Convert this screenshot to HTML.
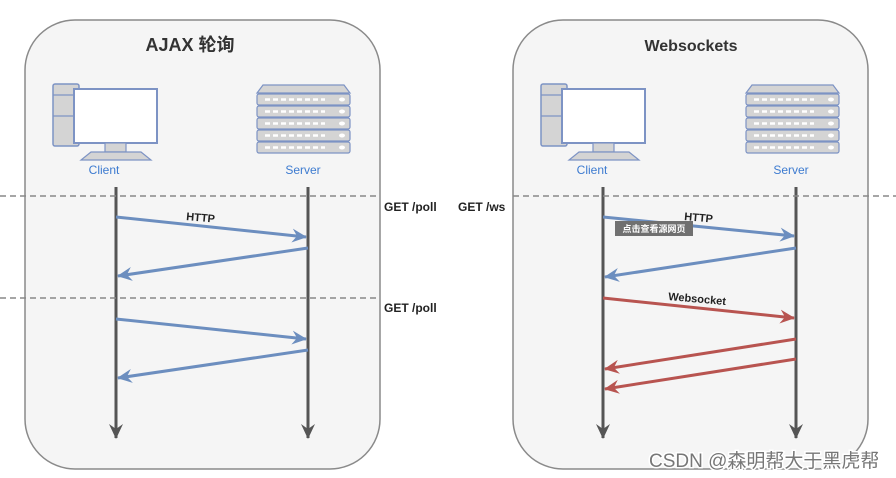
<!DOCTYPE html>
<html><head><meta charset="utf-8"><style>
body{margin:0;background:#fff;}
svg{display:block;font-family:"Liberation Sans","Noto Sans CJK SC",sans-serif;}
</style></head><body>
<svg width="896" height="478" viewBox="0 0 896 478" xmlns="http://www.w3.org/2000/svg">
<defs>
<g id="pc">
 <rect x="0" y="0" width="26" height="62" rx="2" fill="#d4d4d4" stroke="#7d93c4" stroke-width="1.5"/>
 <line x1="0" y1="11" x2="26" y2="11" stroke="#7d93c4" stroke-width="1.2"/>
 <line x1="0" y1="32" x2="26" y2="32" stroke="#7d93c4" stroke-width="1.2"/>
 <rect x="21" y="5" width="83" height="54" fill="#fff" stroke="#7d93c4" stroke-width="2"/>
 <rect x="52" y="59" width="21" height="9" fill="#d4d4d4" stroke="#7d93c4" stroke-width="1.2"/>
 <polygon points="38,68 88,68 98,76 28,76" fill="#d4d4d4" stroke="#7d93c4" stroke-width="1.2"/>
</g>
<g id="srv">
 <polygon points="6,0 87,0 93,8 0,8" fill="#d4d4d4" stroke="#7d93c4" stroke-width="1.2"/>
 <rect x="0" y="9" width="93" height="11" rx="2" fill="#d4d4d4" stroke="#7d93c4" stroke-width="1.2"/>
 <rect x="0" y="21" width="93" height="11" rx="2" fill="#d4d4d4" stroke="#7d93c4" stroke-width="1.2"/>
 <rect x="0" y="33" width="93" height="11" rx="2" fill="#d4d4d4" stroke="#7d93c4" stroke-width="1.2"/>
 <rect x="0" y="45" width="93" height="11" rx="2" fill="#d4d4d4" stroke="#7d93c4" stroke-width="1.2"/>
 <rect x="0" y="57" width="93" height="11" rx="2" fill="#d4d4d4" stroke="#7d93c4" stroke-width="1.2"/>
 <g stroke="#fff" stroke-width="2.5" stroke-dasharray="5 3">
  <line x1="8" y1="14.5" x2="68" y2="14.5"/><line x1="8" y1="26.5" x2="68" y2="26.5"/><line x1="8" y1="38.5" x2="68" y2="38.5"/><line x1="8" y1="50.5" x2="68" y2="50.5"/><line x1="8" y1="62.5" x2="68" y2="62.5"/>
 </g>
 <g fill="#fff"><ellipse cx="85" cy="14.5" rx="3" ry="2"/><ellipse cx="85" cy="26.5" rx="3" ry="2"/><ellipse cx="85" cy="38.5" rx="3" ry="2"/><ellipse cx="85" cy="50.5" rx="3" ry="2"/><ellipse cx="85" cy="62.5" rx="3" ry="2"/></g>
</g>
<marker id="ab" markerWidth="16" markerHeight="16" refX="14" refY="7" orient="auto" markerUnits="userSpaceOnUse"><path d="M0,0 L15,7 L0,14 L5,7 Z" fill="#6c8ebf"/></marker>
<marker id="ar" markerWidth="16" markerHeight="16" refX="14" refY="7" orient="auto" markerUnits="userSpaceOnUse"><path d="M0,0 L15,7 L0,14 L5,7 Z" fill="#b85450"/></marker>
<marker id="ag" markerWidth="16" markerHeight="16" refX="14" refY="7" orient="auto" markerUnits="userSpaceOnUse"><path d="M0,0 L15,7 L0,14 L5,7 Z" fill="#555"/></marker>
</defs>

<rect x="25" y="20" width="355" height="449" rx="50" fill="#f5f5f5" stroke="#8a8a8a" stroke-width="1.5"/>
<rect x="513" y="20" width="355" height="449" rx="50" fill="#f5f5f5" stroke="#8a8a8a" stroke-width="1.5"/>

<text x="190" y="51" font-size="18" font-weight="bold" fill="#333" text-anchor="middle">AJAX 轮询</text>
<text x="691" y="51" font-size="16" font-weight="bold" fill="#333" text-anchor="middle">Websockets</text>

<use href="#pc" x="53" y="84"/>
<use href="#srv" x="257" y="85"/>
<use href="#pc" x="541" y="84"/>
<use href="#srv" x="746" y="85"/>
<g font-size="12" fill="#3d7bd0" text-anchor="middle">
<text x="104" y="174">Client</text><text x="303" y="174">Server</text>
<text x="592" y="174">Client</text><text x="791" y="174">Server</text>
</g>

<g stroke="#555" stroke-width="3">
<line x1="116" y1="187" x2="116" y2="438" marker-end="url(#ag)"/>
<line x1="308" y1="187" x2="308" y2="438" marker-end="url(#ag)"/>
<line x1="603" y1="187" x2="603" y2="438" marker-end="url(#ag)"/>
<line x1="796" y1="187" x2="796" y2="438" marker-end="url(#ag)"/>
</g>

<g stroke="#888" stroke-width="1.5" stroke-dasharray="6 4">
<line x1="0" y1="196" x2="378" y2="196"/>
<line x1="513" y1="196" x2="896" y2="196"/>
<line x1="0" y1="298" x2="378" y2="298"/>
</g>
<g font-size="12" font-weight="bold" fill="#222">
<text x="384" y="211">GET /poll</text>
<text x="458" y="211">GET /ws</text>
<text x="384" y="312">GET /poll</text>
</g>

<g stroke-width="3" fill="none">
<line x1="116" y1="217" x2="306" y2="237" stroke="#6c8ebf" marker-end="url(#ab)"/>
<line x1="308" y1="248" x2="118" y2="276" stroke="#6c8ebf" marker-end="url(#ab)"/>
<line x1="116" y1="319" x2="306" y2="339" stroke="#6c8ebf" marker-end="url(#ab)"/>
<line x1="308" y1="350" x2="118" y2="378" stroke="#6c8ebf" marker-end="url(#ab)"/>
<line x1="603" y1="217" x2="794" y2="236" stroke="#6c8ebf" marker-end="url(#ab)"/>
<line x1="796" y1="248" x2="605" y2="277" stroke="#6c8ebf" marker-end="url(#ab)"/>
<line x1="603" y1="298" x2="794" y2="318" stroke="#b85450" marker-end="url(#ar)"/>
<line x1="796" y1="339" x2="605" y2="369" stroke="#b85450" marker-end="url(#ar)"/>
<line x1="796" y1="359" x2="605" y2="389" stroke="#b85450" marker-end="url(#ar)"/>
</g>
<g font-size="11" font-weight="bold" fill="#222">
<text x="186" y="220" transform="rotate(5 186 220)">HTTP</text>
<text x="684" y="220" transform="rotate(5 684 220)">HTTP</text>
<text x="668" y="300" transform="rotate(5 668 300)">Websocket</text>
</g>
<rect x="615" y="221" width="78" height="15" fill="#707070"/>
<text x="654" y="232" font-size="9" fill="#fff" text-anchor="middle" font-weight="bold">点击查看源网页</text>

<text x="649" y="467" font-size="19" fill="#fff" stroke="#fff" stroke-width="3">CSDN @森明帮大于黑虎帮</text>
<text x="649" y="467" font-size="19" fill="#777">CSDN @森明帮大于黑虎帮</text>
</svg>
</body></html>
